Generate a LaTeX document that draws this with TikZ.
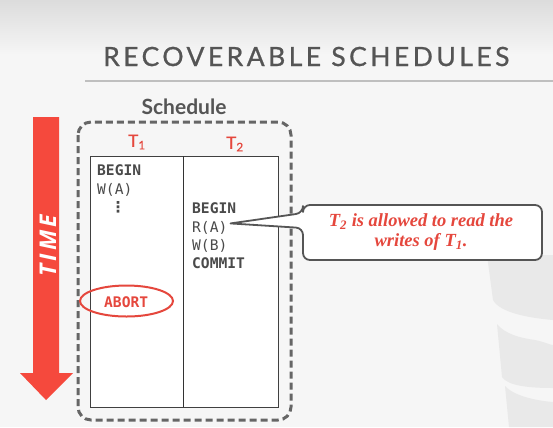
\documentclass[tikz,border=0pt]{standalone}
\usepackage{fontspec}
\setmainfont{Liberation Serif}
\setsansfont{Lato}
\setmonofont{DejaVu Sans Mono}
\newfontfamily\titlefont[LetterSpace=13,FakeBold=0.8]{Lato}
\newfontfamily\headfont[FakeBold=0.6]{Lato}
\newfontfamily\timefont[LetterSpace=14]{Open Sans}
\newfontfamily\dejavu{DejaVu Sans}
\usetikzlibrary{shapes.geometric,calc}
\definecolor{bgc}{HTML}{F6F6F6}
\definecolor{bgtop}{HTML}{DCDCDC}
\definecolor{txtgray}{HTML}{555555}
\definecolor{codegray}{HTML}{4A4A4A}
\definecolor{redc}{HTML}{E5473D}
\definecolor{arrowred}{HTML}{F5493D}
\definecolor{dashgray}{HTML}{666666}
\definecolor{logogray}{HTML}{E9E9E9}
\tikzset{
  code/.style={anchor=base west, inner sep=0pt, text=codegray, font=\ttfamily\fontsize{14.6bp}{14.6bp}\selectfont},
  codeb/.style={code, font=\ttfamily\bfseries\fontsize{14.6bp}{14.6bp}\selectfont},
  thead/.style={text=redc, font=\headfont\fontsize{17bp}{17bp}\selectfont, inner sep=0pt},
  callbox/.style={draw=txtgray, line width=1.8bp, fill=white, line join=round, line cap=round, rounded corners=7bp},
}
\begin{document}
\begin{tikzpicture}[x=1bp,y=-1bp]
\useasboundingbox (0,0) rectangle (553,427);
\fill[bgc] (0,0) rectangle (553,427);
\shade[top color=bgtop, bottom color=bgc] (0,0) rectangle (553,55);
% faint logo
\fill[logogray] (487,255) -- (553,255) -- (553,320) .. controls (530,318) and (500,313) .. (493,300) -- cycle;
\fill[logogray] (497,324) .. controls (505,334) and (520,338) .. (535,340) .. controls (545,342) and (550,345) .. (553,345) -- (553,388) .. controls (530,388) and (508,386) .. (502,377) -- cycle;
\fill[logogray] (505,386) .. controls (515,397) and (540,401) .. (553,402) -- (553,427) -- (509,427) -- cycle;
% title
\node[anchor=base west, inner sep=0pt, text=txtgray, font=\titlefont\fontsize{26.5bp}{26.5bp}\selectfont] (title) at (103,66) {RECOVERABLE SCHEDULES};
\draw[black!25, line width=1.2bp] (85,81) -- (553,81);
% time arrow
\fill[arrowred] (33,117) -- (59,117) -- (59,373) -- (73,373) -- (46,400) -- (20,373) -- (33,373) -- cycle;
\node[rotate=90, text=white, inner sep=0pt, font=\timefont\bfseries\itshape\fontsize{23bp}{23bp}\selectfont] (time) at (48,246) {TIME};
% schedule
\node[text=txtgray, inner sep=0pt, font=\sffamily\bfseries\fontsize{21bp}{21bp}\selectfont] (sched) at (184,107) {Schedule};
\draw[dashgray, line width=3bp, dash pattern=on 7bp off 4bp, rounded corners=13bp] (78,122) rectangle (291,420);
\node[thead] (t1) at (137,142) {T\textsubscript{1}};
\node[thead] (t2) at (235,144) {T\textsubscript{2}};
\draw[fill=white, draw=black!75, line width=1bp] (90,156) rectangle (278,407);
\draw[black!80, line width=1bp] (183,156) -- (183,407);
% T1 column
\node[codeb] (b1) at (97,175) {BEGIN};
\node[code] (w1) at (97,194) {W(A)};
\node[inner sep=0pt, text=codegray, font=\dejavu\bfseries\fontsize{15bp}{15bp}\selectfont] (dots) at (118,207.5) {⋮};
\node[codeb, text=redc] (ab) at (104,307) {ABORT};
\draw[redc, line width=2bp] (126.5,301) ellipse [x radius=46.5, y radius=15.5];
% T2 column
\node[codeb] (b2) at (192,213) {BEGIN};
\node[code] (ra) at (192,232) {R(A)};
\node[code] (wb) at (192,250) {W(B)};
\node[codeb] (cm) at (192,268) {COMMIT};
% callout
\coordinate (tip) at ($(ra.east)+(3,-4)$);
\draw[callbox] (tip) -- (303,213) -- (303,205) -- (542,205) -- (542,260) -- (303,260) -- (303,228) -- (tip);
\node[align=center, inner sep=0pt, text=redc, font=\bfseries\itshape\fontsize{18.5bp}{20bp}\selectfont] (note) at (421,232) {T\textsubscript{2} is allowed to read the\\writes of T\textsubscript{1}.};
\end{tikzpicture}
\end{document}
